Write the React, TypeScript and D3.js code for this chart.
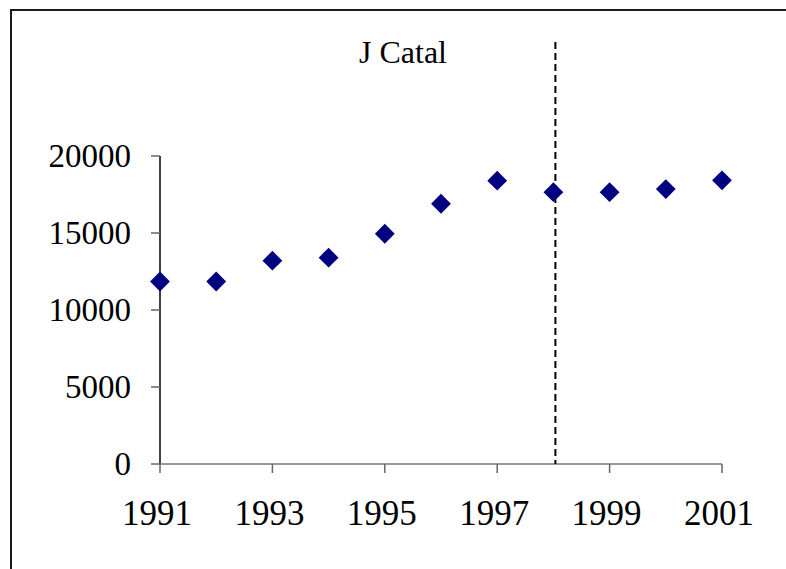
import React, { useEffect, useRef } from 'react';
import * as d3 from 'd3';

// values
const years = [1991, 1992, 1993, 1994, 1995, 1996, 1997, 1998, 1999, 2000, 2001];
const values = [11850, 11850, 13200, 13400, 14950, 16900, 18400, 17650, 17650, 17850, 18420];
const yTicks = [0, 5000, 10000, 15000, 20000];
const xTicks = [1991, 1993, 1995, 1997, 1999, 2001];
const title = 'J Catal';
const cutYear = 1998;

const W = 786;
const H = 569;
const FONT = '"Liberation Serif", "Times New Roman", serif';

const App: React.FC = () => {
  const svgRef = useRef<SVGSVGElement>(null);

  useEffect(() => {
    if (!svgRef.current) return;
    const svg = d3.select(svgRef.current);
    svg.selectAll('*').remove();

    const x = d3.scaleLinear().domain([1991, 2001]).range([160, 722]);
    const y = d3.scaleLinear().domain([0, 20000]).range([464, 156]);

    // outer frame (top + left only visible)
    svg.append('path')
      .attr('d', `M11,${H} L11,10 L${W},10`)
      .attr('fill', 'none')
      .attr('stroke', '#1a1a1a')
      .attr('stroke-width', 2);

    // y axis
    const yAxis = svg.append('g');
    yAxis.append('line')
      .attr('x1', x(1991)).attr('x2', x(1991))
      .attr('y1', y(20000)).attr('y2', y(0))
      .attr('stroke', '#000').attr('stroke-width', 1.5);
    yTicks.forEach(t => {
      yAxis.append('line')
        .attr('x1', x(1991) - 9).attr('x2', x(1991))
        .attr('y1', y(t)).attr('y2', y(t))
        .attr('stroke', '#666').attr('stroke-width', 1.5);
      yAxis.append('text')
        .attr('x', 131)
        .attr('y', y(t) + 11)
        .attr('text-anchor', 'end')
        .attr('font-family', FONT)
        .attr('font-size', 33)
        .attr('fill', '#000')
        .text(String(t));
    });

    // x axis
    const xAxis = svg.append('g');
    xAxis.append('line')
      .attr('x1', x(1991)).attr('x2', x(2001))
      .attr('y1', y(0)).attr('y2', y(0))
      .attr('stroke', '#777').attr('stroke-width', 1.5);
    xTicks.forEach(t => {
      xAxis.append('line')
        .attr('x1', x(t)).attr('x2', x(t))
        .attr('y1', y(0)).attr('y2', y(0) + 9)
        .attr('stroke', '#666').attr('stroke-width', 1.5);
      xAxis.append('text')
        .attr('x', x(t) - 3)
        .attr('y', 525)
        .attr('text-anchor', 'middle')
        .attr('font-family', FONT)
        .attr('font-size', 35)
        .attr('fill', '#000')
        .text(String(t));
    });

    // dashed marker line
    svg.append('line')
      .attr('x1', x(cutYear) + 2).attr('x2', x(cutYear) + 2)
      .attr('y1', 42).attr('y2', y(0))
      .attr('stroke', '#000')
      .attr('stroke-width', 2)
      .attr('stroke-dasharray', '7,4');

    // title
    svg.append('text')
      .attr('x', 403)
      .attr('y', 63)
      .attr('text-anchor', 'middle')
      .attr('font-family', FONT)
      .attr('font-size', 32)
      .attr('fill', '#000')
      .text(title);

    // diamond markers
    const diamond = d3.symbol().type(d3.symbolDiamond2).size(250);
    svg.selectAll('path.pt')
      .data(years.map((yr, i) => ({ yr, v: values[i] })))
      .enter()
      .append('path')
      .attr('class', 'pt')
      .attr('d', diamond)
      .attr('transform', d => `translate(${x(d.yr)},${y(d.v)})`)
      .attr('fill', '#000080');
  }, []);

  return (
    <svg
      ref={svgRef}
      width={W}
      height={H}
      style={{ position: 'absolute', left: 0, top: 0, background: '#fff' }}
    />
  );
};

export default App;
